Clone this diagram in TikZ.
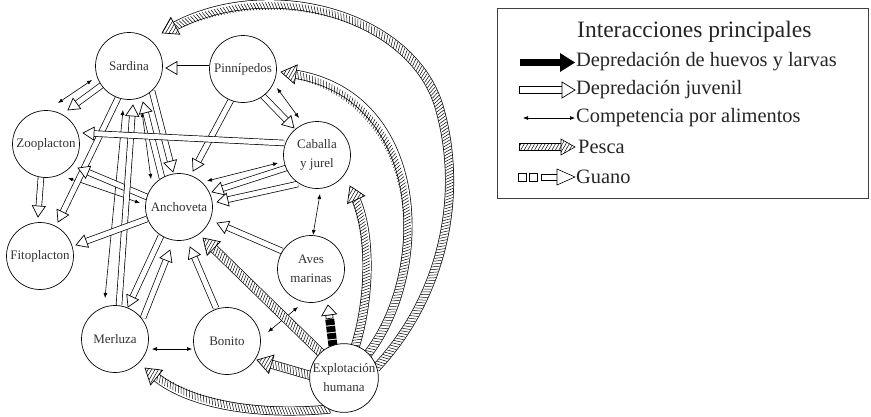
\documentclass[tikz,border=0pt]{standalone}
\usepackage{fontspec}
\setmainfont{Liberation Serif}
\usetikzlibrary{arrows.meta,decorations.markings,patterns.meta}
\pgfdeclarelayer{bg}
\pgfsetlayers{bg,main}
\tikzset{
  sp/.style={circle, draw, line width=0.7pt, fill=white, minimum size=67pt, inner sep=0pt, align=center, font=\fontsize{13}{19}\selectfont, text=black!80},
  comp/.style={line width=0.6pt, {Latex[length=5pt,width=4pt]}-{Latex[length=5pt,width=4pt]}},
  juvshaft/.style={double=white, double distance=5pt, line width=0.7pt, shorten >=10pt},
  juvtip/.style={decorate, decoration={markings, mark=at position 0.9999 with {\draw[line width=0.7pt, fill=white, line join=miter] (0,0) -- (-11,6.5) -- (-11,-6.5) -- cycle;}}},
  hatchfill/.style={pattern={Lines[angle=60,distance=3pt,line width=0.5pt]}},
  hatchshaft/.style={double=white, double distance=7.6pt, line width=0.7pt, shorten >=13pt},
  hatchlines/.style={decorate, decoration={markings, mark=between positions 1.5pt and -14pt step 3pt with {\draw[line width=0.5pt] (-1.6,-3.7) -- (1.6,3.7);}}},
  hatchtip/.style={decorate, decoration={markings, mark=at position 0.9999 with {\draw[line width=0.7pt, line join=miter, preaction={fill=white}, hatchfill] (0,0) -- (-15,9.5) -- (-15,-9.5) -- cycle;}}},
  legtext/.style={anchor=west, font=\fontsize{20.4}{24}\selectfont, inner sep=0pt, text=black!85},
}
\newcommand\juv[2]{\draw[juvshaft] #1 -- #2; \path[juvtip] #1 -- #2;}
\newcommand\pesca[1]{\draw[hatchshaft] #1; \path[hatchlines] #1; \path[hatchtip] #1;}
\newcommand\rel[3]{([shift={(#2,#3)}]#1.center)}
\begin{document}
\begin{tikzpicture}[x=1pt,y=-1pt]
\useasboundingbox (0,0) rectangle (871,416);
% species
\node[sp] (sar) at (129,66) {Sardina};
\node[sp] (pin) at (243,69) {Pinnípedos};
\node[sp] (zoo) at (46,144) {Zooplacton};
\node[sp] (cab) at (317,155) {Caballa\\y jurel};
\node[sp] (anc) at (179,207) {Anchoveta};
\node[sp] (fit) at (40,256) {Fitoplacton};
\node[sp] (ave) at (311,269) {Aves\\marinas};
\node[sp] (mer) at (115,339) {Merluza};
\node[sp] (bon) at (227,341) {Bonito};
\node[sp] (exp) at (344,378) {Explotación\\humana};
\begin{pgfonlayer}{bg}
\fill[white] (0,0) rectangle (871,416);
% competition
\draw[comp] \rel{sar}{-37}{14} -- \rel{zoo}{12}{-41};
\draw[comp] \rel{zoo}{22}{34} -- \rel{anc}{-39}{-4};
\draw[comp] \rel{sar}{13}{46} -- \rel{anc}{-28}{-28};
\draw[comp] \rel{sar}{-6}{44} -- \rel{mer}{-10}{-41};
\draw[comp] \rel{pin}{34}{19} -- \rel{cab}{-18}{-37};
\draw[comp] \rel{cab}{-39}{8} -- \rel{anc}{28}{-26};
\draw[comp] \rel{cab}{3}{39} -- \rel{ave}{2}{-34};
\draw[comp] \rel{mer}{37}{10} -- \rel{bon}{-35}{8};
\draw[comp] \rel{bon}{41}{-9} -- \rel{ave}{-13}{38};
% juvenile predation
\juv{\rel{pin}{-34}{-1}}{\rel{sar}{37}{2}}
\juv{\rel{sar}{-27}{19}}{\rel{zoo}{22}{-34}}
\juv{\rel{sar}{-11}{32}}{\rel{fit}{18}{-34}}
\juv{\rel{zoo}{-5}{33}}{\rel{fit}{-2}{-39}}
\juv{\rel{anc}{-32}{-10}}{\rel{zoo}{32}{24}}
\juv{\rel{anc}{-17}{-29}}{\rel{sar}{14}{36}}
\juv{\rel{sar}{23}{25}}{\rel{anc}{-6}{-35}}
\juv{\rel{mer}{4}{-34}}{\rel{sar}{4}{39}}
\juv{\rel{pin}{-12}{31}}{\rel{anc}{14}{-36}}
\juv{\rel{pin}{20}{27}}{\rel{cab}{-23}{-27}}
\juv{\rel{cab}{-33}{-12}}{\rel{zoo}{37}{-11}}
\juv{\rel{cab}{-31}{13}}{\rel{anc}{33}{-15}}
\juv{\rel{cab}{-19}{29}}{\rel{anc}{38}{-5}}
\juv{\rel{ave}{-29}{-18}}{\rel{anc}{38}{16}}
\juv{\rel{anc}{-32}{12}}{\rel{fit}{36}{-11}}
\juv{\rel{anc}{-18}{29}}{\rel{mer}{13}{-32}}
\juv{\rel{mer}{28}{-21}}{\rel{anc}{-9}{43}}
\juv{\rel{bon}{-11}{-33}}{\rel{anc}{11}{40}}
% fishing
\pesca{\rel{exp}{-23}{-25} -- \rel{anc}{24}{31}}
\pesca{\rel{exp}{-32}{-2} -- \rel{bon}{30}{19}}
\pesca{\rel{exp}{-14}{31} .. controls (260,416) and (190,405) .. \rel{mer}{30}{29}}
\pesca{\rel{exp}{11}{-31} .. controls (370,300) and (372,235) .. \rel{cab}{33}{31}}
\pesca{\rel{exp}{23}{-23} .. controls (432,272) and (428,95) .. \rel{pin}{38}{3}}
\pesca{\rel{exp}{32}{-10} .. controls (440,300) and (465,200) .. (440,110) .. controls (415,15) and (270,-25) .. \rel{sar}{33}{-33}}
% guano
\path[decorate, decoration={markings,
  mark=at position 3pt with {\fill (-3,-4.5) rectangle (3,4.5);},
  mark=at position 10pt with {\fill (-3,-4.5) rectangle (3,4.5);},
  mark=at position 17pt with {\fill (-3,-4.5) rectangle (3,4.5);},
  mark=at position 24pt with {\fill (-3,-4.5) rectangle (3,4.5);},
  mark=at position 0.9999 with {\draw[line width=0.7pt, fill=white] (-13.5,-3.5) rectangle (-10,3.5);
    \draw[line width=0.7pt, fill=white, line join=miter] (0,0) -- (-10,7.5) -- (-10,-7.5) -- cycle;}}]
  \rel{exp}{-11}{-32} -- \rel{ave}{17}{36};
\end{pgfonlayer}
% legend
\draw[black!75, line width=0.8pt] (497,8) rectangle (868,198);
\node[anchor=west, font=\fontsize{23.5}{27}\selectfont, inner sep=0pt, text=black!85] (tit) at (577,32) {Interacciones principales};
\fill (520,59) rectangle (562,66);
\fill (560,53) -- (575,62.5) -- (560,72) -- cycle;
\node[legtext] (l1) at (576,62) {Depredación de huevos y larvas};
\draw[line width=0.7pt, fill=white] (519,86.5) rectangle (562,93.5);
\draw[line width=0.7pt, fill=white, line join=miter] (562,82) -- (575,90) -- (562,98) -- cycle;
\node[legtext] (l2) at (576,90) {Depredación juvenil};
\draw[comp] (523,118) -- (575,118);
\node[legtext] (l3) at (576,118) {Competencia por alimentos};
\draw[line width=0.6pt, preaction={fill=white}, hatchfill] (519,143.5) rectangle (561,150.5);
\draw[line width=0.6pt, line join=miter, preaction={fill=white}, hatchfill] (561,139) -- (575,147) -- (561,155) -- cycle;
\node[legtext] (l4) at (578,147) {Pesca};
\draw[line width=0.6pt] (518,173) rectangle (526,181);
\draw[line width=0.6pt] (529,173) rectangle (537,181);
\draw[line width=0.6pt, fill=white] (541,174) rectangle (557,180);
\draw[line width=0.6pt, fill=white, line join=miter] (557,169) -- (575,177) -- (557,185) -- cycle;
\node[legtext] (l5) at (576,177) {Guano};
\end{tikzpicture}
\end{document}
